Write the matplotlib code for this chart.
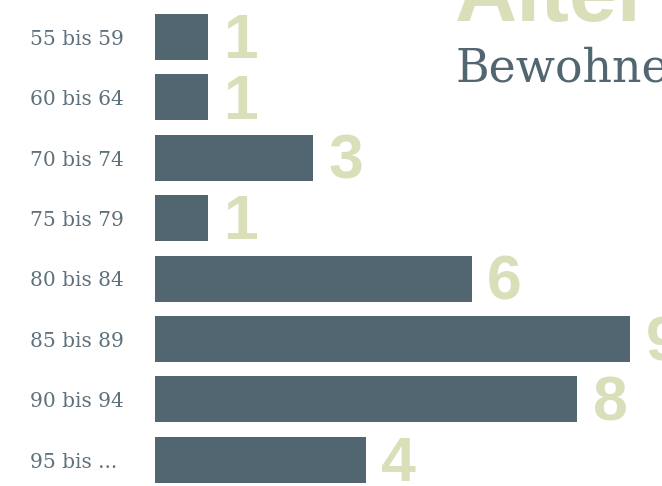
import matplotlib.pyplot as plt

# Altersgruppen und Anzahl Bewohner
groups = ["55 bis 59", "60 bis 64", "70 bis 74", "75 bis 79",
          "80 bis 84", "85 bis 89", "90 bis 94", "95 bis ..."]
counts = [1, 1, 3, 1, 6, 9, 8, 4]

bar_color = "#526672"
num_color = "#dadfb9"
label_color = "#5f717c"

W, H = 662, 486
fig = plt.figure(figsize=(W / 100, H / 100), dpi=100)

# axes: left edge at 155px, 52.8px per unit, rows 60.4px apart, first centre at 37px
unit = 52.8
row = 60.4
ax = fig.add_axes([155 / W, 0, (W - 155) / W, 1])
ax.set_xlim(0, (W - 155) / unit)
ax.set_ylim((H - 37) / row, -37 / row)
ax.axis("off")

pos = list(range(len(groups)))
bh = 46 / row
ax.barh(pos, counts, height=bh, color=bar_color)

for p, c in zip(pos, counts):
    ax.annotate(str(c), (c, p + bh / 2 - 0.03), xytext=(11, 0), textcoords="offset points",
                ha="left", va="baseline", fontsize=45, fontweight="heavy",
                family="Liberation Sans", color=num_color, annotation_clip=False)

trans = ax.get_yaxis_transform()
for p, g in zip(pos, groups):
    ax.text(-125 / (W - 155), p + 0.13, g, transform=trans, ha="left", va="baseline",
            fontsize=14.5, family="DejaVu Serif", color=label_color, clip_on=False)

fig.text(455 / W, 1 - 21 / H, "Alter", ha="left", va="baseline", fontsize=62,
         fontweight="heavy", family="Liberation Sans", color=num_color)
fig.text(456 / W, 1 - 81 / H, "Bewohner", ha="left", va="baseline", fontsize=33,
         family="DejaVu Serif", color=bar_color)

fig.savefig("out.png", dpi=100)
